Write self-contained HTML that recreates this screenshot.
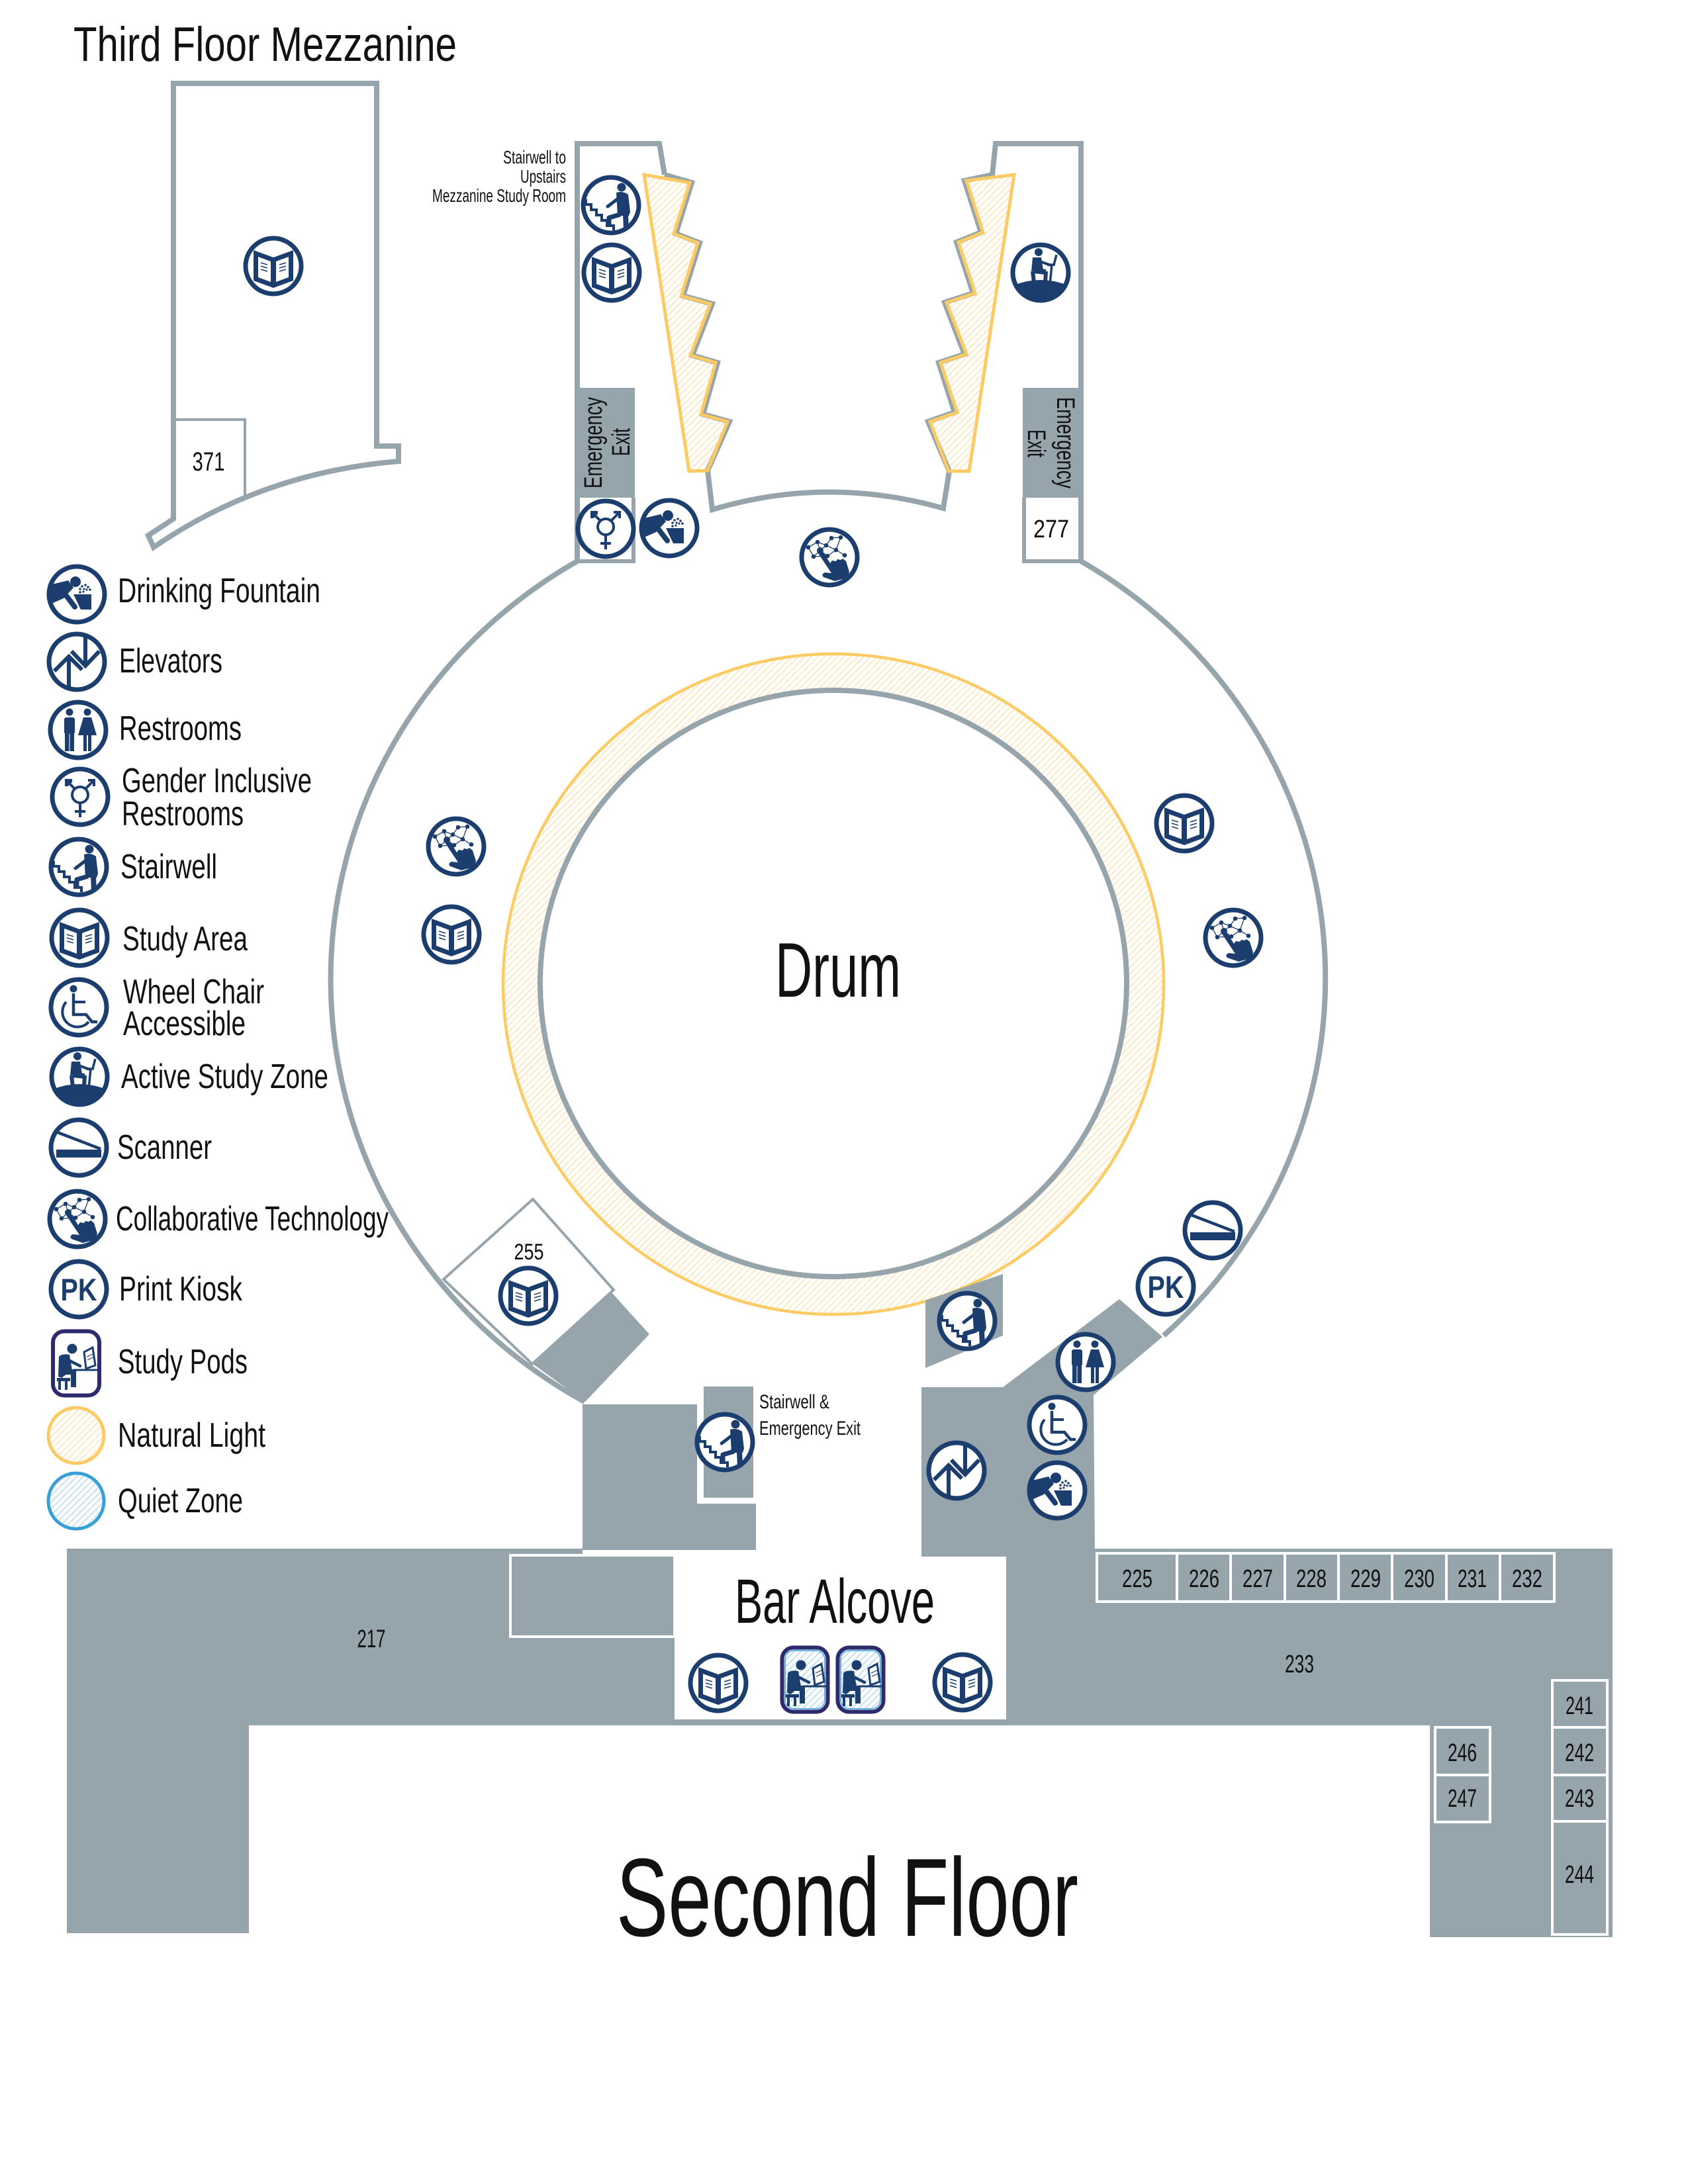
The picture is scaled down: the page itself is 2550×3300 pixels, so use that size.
<!DOCTYPE html>
<html><head><meta charset="utf-8">
<style>
html,body{margin:0;padding:0;background:#fff;}
svg{display:block;}
text{font-family:"Liberation Sans",Arial,sans-serif;fill:#111;}
</style></head><body>
<svg width="2550" height="3300" viewBox="0 0 2550 3300" xmlns="http://www.w3.org/2000/svg">
<defs>
<pattern id="hy" width="7" height="7" patternUnits="userSpaceOnUse" patternTransform="rotate(45)">
<rect width="7" height="7" fill="#fff"/>
<line x1="0" y1="0" x2="0" y2="7" stroke="#fdd382" stroke-width="1.8"/>
</pattern>
<pattern id="hb" width="7" height="7" patternUnits="userSpaceOnUse" patternTransform="rotate(45)">
<rect width="7" height="7" fill="#fff"/>
<line x1="0" y1="0" x2="0" y2="7" stroke="#86c6ec" stroke-width="1.8"/>
</pattern>

<g id="ring"><circle r="42" fill="#fff" stroke="#1b3e6e" stroke-width="7"/></g>

<g id="i-book"><use href="#ring"/>
<path d="M-30,-24 L0,-13 L30,-24 L30,22 L0,33 L-30,22Z" fill="#1b3e6e"/>
<path d="M-23,-14 L-4,-7 L-4,24 L-23,17Z M4,-7 L23,-14 L23,17 L4,24Z" fill="#fff"/>
<path d="M-19,-5 L-9,-2 M-19,0 L-9,3 M-19,5 L-9,8 M9,-2 L19,-5 M9,3 L19,0 M9,8 L19,5" stroke="#1b3e6e" stroke-width="1.6"/>
</g>

<g id="i-stair"><use href="#ring"/>
<path d="M-38,-9 V-1 H-30 V7 H-22 V15 H-14 V23 H-6 V31 H4 V38" fill="none" stroke="#1b3e6e" stroke-width="4"/>
<circle cx="16" cy="-27" r="6.5" fill="#1b3e6e"/>
<path d="M8,-19 Q18,-22 26,-16 L29,10 L27,16 L10,16 Z" fill="#1b3e6e"/>
<path d="M12,-11 L-5,2" stroke="#1b3e6e" stroke-width="5" stroke-linecap="round"/>
<path d="M22,14 L23,37" stroke="#1b3e6e" stroke-width="8"/>
<path d="M14,14 L-3,19 L-3,31" fill="none" stroke="#1b3e6e" stroke-width="7" stroke-linejoin="round"/>
</g>

<g id="i-drink"><use href="#ring"/>
<circle cx="-2" cy="-19" r="8" fill="#1b3e6e"/>
<path d="M-42,-14 L-13,-21 L-5,-10 L-20,6 L-38,14 Z" fill="#1b3e6e"/>
<path d="M-16,2 L-3,19" stroke="#1b3e6e" stroke-width="8" stroke-linecap="round"/>
<path d="M-5,0 H22 V23 H6 Z" fill="#1b3e6e"/>
<g fill="#1b3e6e"><circle cx="5" cy="-3" r="1.8"/><circle cx="5" cy="-8" r="1.8"/><circle cx="8" cy="-12" r="1.8"/><circle cx="13" cy="-14" r="1.8"/><circle cx="17" cy="-11" r="1.8"/><circle cx="20" cy="-7" r="1.8"/><circle cx="10" cy="-4" r="1.6"/><circle cx="11" cy="-8" r="1.6"/><circle cx="15" cy="-7" r="1.6"/></g>
</g>

<g id="i-elev"><use href="#ring"/>
<path d="M-12,40 V-8 M-34,14 L-12,-8 L8,12 M13,-40 V6 M-8,-16 L13,6 L34,-16" fill="none" stroke="#1b3e6e" stroke-width="6"/>
</g>

<g id="i-rest"><use href="#ring"/>
<g fill="#1b3e6e">
<circle cx="-13" cy="-27" r="5.5"/><rect x="-21" y="-19" width="16" height="25" rx="3"/>
<rect x="-20" y="4" width="6.5" height="28"/><rect x="-12.5" y="4" width="6.5" height="28"/>
<circle cx="14" cy="-27" r="5.5"/><path d="M8,-19 H20 L28,8 H0 Z"/>
<rect x="8" y="6" width="5" height="26"/><rect x="15" y="6" width="5" height="26"/>
</g></g>

<g id="i-gender"><use href="#ring"/>
<g fill="none" stroke="#1b3e6e" stroke-width="4">
<circle cx="0" cy="-3" r="12"/><path d="M0,9 V31 M-8,22 H8"/>
<path d="M8,-12 L21,-25 M12,-25 H21 V-16"/>
<path d="M-8,-12 L-21,-25 M-12,-25 H-21 V-16 M-20,-17 L-13,-24"/>
</g></g>

<g id="i-wheel"><use href="#ring"/>
<circle cx="-8" cy="-28" r="5.5" fill="#1b3e6e"/>
<path d="M-8,-21 V11 H11 L20,22 H28" fill="none" stroke="#1b3e6e" stroke-width="4.5"/>
<path d="M-8,-8 H10" stroke="#1b3e6e" stroke-width="4"/>
<path d="M-19,-8 A22,22 0 1 0 15,22" fill="none" stroke="#1b3e6e" stroke-width="4"/>
</g>

<g id="i-active"><use href="#ring"/>
<path d="M-38,18 Q0,4 38,18 A42,42 0 0 1 -38,18 Z" fill="#1b3e6e"/>
<circle cx="-3" cy="-31" r="6" fill="#1b3e6e"/>
<path d="M-12,-23 L1,-23 L4,-4 L-14,-2 Z" fill="#1b3e6e"/>
<path d="M-1,-17 L16,-11" stroke="#1b3e6e" stroke-width="4" stroke-linecap="round"/>
<path d="M-10,-3 L8,-1" stroke="#1b3e6e" stroke-width="8"/>
<path d="M8,-2 L7,15" stroke="#1b3e6e" stroke-width="6"/>
<path d="M-12,-2 L-10,15" stroke="#1b3e6e" stroke-width="6"/>
<path d="M17,-12 L14,18 M10,-12 H22 M20,-12 L24,-27" stroke="#1b3e6e" stroke-width="3.5"/>
</g>

<g id="i-scan"><use href="#ring"/>
<rect x="-34" y="3" width="68" height="12" fill="#1b3e6e"/>
<path d="M-32,-23 L33,2" stroke="#1b3e6e" stroke-width="4.5"/>
</g>

<g id="i-collab"><use href="#ring"/>
<path d="M-32,-15 L-18,-23 L-14,-10 L-24,-1 Z M-18,-23 L-5,-18 L3,-29 L17,-30 L10,-11 L23,-3 M-5,-18 L10,-11 M-14,-10 L-5,-18 M-14,-10 L-3,-2 L10,-11 M3,-29 L-5,-18 M-24,-1 L-3,-2" stroke="#1b3e6e" stroke-width="1.3" fill="none"/>
<g fill="#1b3e6e"><circle cx="-32" cy="-15" r="3.3"/><circle cx="-18" cy="-23" r="3.3"/><circle cx="-14" cy="-10" r="5"/><circle cx="-24" cy="-1" r="3.3"/><circle cx="-5" cy="-18" r="3.3"/><circle cx="3" cy="-29" r="3.3"/><circle cx="17" cy="-30" r="3.3"/><circle cx="10" cy="-11" r="3.3"/><circle cx="-3" cy="-2" r="3.3"/><circle cx="23" cy="-3" r="3.3"/>
<path d="M-17,-6 Q-12,-11 -8,-6 L1,9 L4,5 L10,6 L12,3 L17,4 L20,2 L25,6 L30,22 L27,31 L8,36 L-9,30 Q-13,26 -7,23 L3,24 Z"/></g>
</g>

<g id="i-pk"><use href="#ring"/>
<text x="0" y="17" text-anchor="middle" font-size="47" font-weight="bold" textLength="55" lengthAdjust="spacingAndGlyphs" style="fill:#1b3e6e">PK</text>
</g>

<g id="pod-fig">
<circle cx="-6" cy="-22" r="7.5" fill="#1b3e6e"/>
<path d="M-26,-10 Q-22,-15 -10,-13 L-6,10 L-22,22 L-27,20 Z" fill="#1b3e6e"/>
<path d="M-14,-6 L6,4" stroke="#1b3e6e" stroke-width="4.5" stroke-linecap="round"/>
<path d="M-24,13 H-4 V36" fill="none" stroke="#1b3e6e" stroke-width="8"/>
<rect x="-29" y="22" width="20" height="5" fill="#1b3e6e"/>
<path d="M-25,27 V40 M-15,27 V40" stroke="#1b3e6e" stroke-width="4"/>
<path d="M-4,10 H33" stroke="#1b3e6e" stroke-width="3"/>
<path d="M12,-17 L25,-24 L29,3 L15,8 Z" fill="#fff" stroke="#1b3e6e" stroke-width="3"/>
<path d="M16,-10 L25,-14 M17,-5 L26,-9" stroke="#1b3e6e" stroke-width="1.2"/>
</g>
<g id="i-pod">
<rect x="-35" y="-48.5" width="70" height="97" rx="17" fill="#fff" stroke="#2d2b6b" stroke-width="6"/>
<use href="#pod-fig"/>
</g>
<g id="i-podq">
<rect x="-34.5" y="-48.5" width="69" height="97" rx="17" fill="url(#hb)" stroke="#2d2b6b" stroke-width="6"/>
<rect x="-30" y="-44" width="60" height="88" rx="13" fill="none" stroke="#5db3e4" stroke-width="2"/>
<use href="#pod-fig"/>
</g>
</defs>

<!-- ===== Titles ===== -->
<text x="111" y="92" font-size="73" textLength="579" lengthAdjust="spacingAndGlyphs">Third Floor Mezzanine</text>

<!-- ===== Mezzanine ===== -->
<g fill="none" stroke="#96a4ab">
<path d="M262,126 H569 V674 H602 V697 Q396,714 232,827 L224,809 L262,784 Z" stroke-width="8"/>
<path d="M262,634 H370 V752" stroke-width="4"/>
</g>
<text x="315" y="711" font-size="40" text-anchor="middle" textLength="49" lengthAdjust="spacingAndGlyphs">371</text>

<!-- ===== Upper corridors ===== -->
<rect x="872" y="586" width="87" height="166" fill="#96a4ab"/>
<rect x="1545" y="586" width="86" height="166" fill="#96a4ab"/>

<polygon points="973,264 1042,276 1018,353 1054,367 1029,447 1073,459 1043,537 1081,548 1059,626 1099,637 1069,711 1041,712" fill="url(#hy)"/>
<polygon points="1532,264 1460,273 1485,351 1448,366 1473,443 1430,457 1460,535 1421,548 1446,623 1405,637 1433,712 1464,712" fill="url(#hy)"/>

<g fill="none" stroke="#96a4ab" stroke-width="8" stroke-linejoin="miter">
<path d="M872,848 V217 H996 L1004,264"/>
<path d="M1004,264 L1045,276 L1021,353 L1057,367 L1032,447 L1076,459 L1046,537 L1084,548 L1062,626 L1102,637 L1069,711 L1076,770 Q1249,718 1425,768 L1434,712 L1402,637 L1442,623 L1418,548 L1457,535 L1427,457 L1470,443 L1445,366 L1482,351 L1457,273 L1499,264 L1504,217 H1633 V848"/>
<path d="M872,848 H957 V752" stroke-width="6"/>
<path d="M1547,752 V848 H1633" stroke-width="6"/>
</g>
<g fill="none" stroke="#fdcb63" stroke-width="5" stroke-linejoin="miter">
<polygon points="973,264 1042,276 1018,353 1054,367 1029,447 1073,459 1043,537 1081,548 1059,626 1099,637 1069,711 1041,712"/>
<polygon points="1532,264 1460,273 1485,351 1448,366 1473,443 1430,457 1460,535 1421,548 1446,623 1405,637 1433,712 1464,712"/>
</g>

<g transform="translate(855,247)"><text x="0" y="0" font-size="28" text-anchor="end" textLength="95" lengthAdjust="spacingAndGlyphs">Stairwell to</text></g>
<g transform="translate(855,276)"><text x="0" y="0" font-size="28" text-anchor="end" textLength="69" lengthAdjust="spacingAndGlyphs">Upstairs</text></g>
<g transform="translate(855,305)"><text x="0" y="0" font-size="28" text-anchor="end" textLength="202" lengthAdjust="spacingAndGlyphs">Mezzanine Study Room</text></g>

<g transform="translate(909,669) rotate(-90)"><text x="0" y="0" font-size="38" text-anchor="middle" textLength="138" lengthAdjust="spacingAndGlyphs">Emergency</text></g>
<g transform="translate(951,668) rotate(-90)"><text x="0" y="0" font-size="38" text-anchor="middle" textLength="42" lengthAdjust="spacingAndGlyphs">Exit</text></g>
<g transform="translate(1597,669) rotate(90)"><text x="0" y="0" font-size="38" text-anchor="middle" textLength="138" lengthAdjust="spacingAndGlyphs">Emergency</text></g>
<g transform="translate(1553,670) rotate(90)"><text x="0" y="0" font-size="38" text-anchor="middle" textLength="42" lengthAdjust="spacingAndGlyphs">Exit</text></g>
<text x="1588" y="812" font-size="38" text-anchor="middle" textLength="54" lengthAdjust="spacingAndGlyphs">277</text>

<!-- ===== Drum ===== -->
<circle cx="1259" cy="1487" r="471" fill="none" stroke="url(#hy)" stroke-width="56"/>
<circle cx="1259" cy="1487" r="499" fill="none" stroke="#fdcb63" stroke-width="4.5"/>
<circle cx="1259" cy="1486" r="443" fill="none" stroke="#96a4ab" stroke-width="8"/>
<text x="1171" y="1506" font-size="117" textLength="190" lengthAdjust="spacingAndGlyphs">Drum</text>

<!-- ===== Room 255 ===== -->
<polygon points="805,1812 927,1949 804,2061 670,1933" fill="#fff" stroke="#96a4ab" stroke-width="4"/>
<polygon points="924,1953 981,2016 884,2118 805,2061" fill="#96a4ab"/>
<text x="799" y="1903" font-size="34" text-anchor="middle" textLength="45" lengthAdjust="spacingAndGlyphs">255</text>

<!-- ===== Outer circle walls ===== -->
<g fill="none" stroke="#96a4ab" stroke-width="8">
<path d="M872,848 A752,732 0 0 0 883,2118"/>
<path d="M1633,848 A752,732 0 0 1 1758,2018"/>
</g>

<!-- ===== Second floor band ===== -->
<g fill="#96a4ab">
<rect x="101" y="2340" width="2335" height="267"/>
<rect x="101" y="2340" width="275" height="581"/>
<rect x="2160" y="2340" width="276" height="587"/>
</g>
<rect x="1019" y="2336" width="501" height="262" fill="#fff"/>
<rect x="880" y="2342" width="140" height="8" fill="#fff"/>
<g fill="#96a4ab">
<polygon points="880,2122 1053,2122 1053,2272 1142,2272 1142,2342 880,2342"/>
<rect x="1063" y="2095" width="75" height="168"/>
<polygon points="1398,1965 1515,1925 1515,2018 1398,2067"/>
<polygon points="1392,2096 1515,2096 1691,1963 1756,2020 1652,2108 1654,2345 1520,2345 1520,2352 1392,2352"/>
</g>
<rect x="771" y="2350" width="248" height="123" fill="none" stroke="#fff" stroke-width="4"/>

<g fill="none" stroke="#fff" stroke-width="4">
<rect x="1657" y="2347" width="691" height="73"/>
<path d="M1778,2347 V2420 M1859,2347 V2420 M1941,2347 V2420 M2022,2347 V2420 M2103,2347 V2420 M2185,2347 V2420 M2266,2347 V2420"/>
<rect x="2345" y="2539" width="83" height="384"/>
<path d="M2345,2610 H2428 M2345,2682 H2428 M2345,2752 H2428"/>
<rect x="2168" y="2610" width="83" height="143"/>
<path d="M2168,2682 H2251"/>
</g>

<g font-size="38" text-anchor="middle">
<text x="1718" y="2398" textLength="46" lengthAdjust="spacingAndGlyphs">225</text>
<text x="1819" y="2398" textLength="46" lengthAdjust="spacingAndGlyphs">226</text>
<text x="1900" y="2398" textLength="46" lengthAdjust="spacingAndGlyphs">227</text>
<text x="1981" y="2398" textLength="46" lengthAdjust="spacingAndGlyphs">228</text>
<text x="2063" y="2398" textLength="46" lengthAdjust="spacingAndGlyphs">229</text>
<text x="2144" y="2398" textLength="46" lengthAdjust="spacingAndGlyphs">230</text>
<text x="2224" y="2398" textLength="44" lengthAdjust="spacingAndGlyphs">231</text>
<text x="2307" y="2398" textLength="46" lengthAdjust="spacingAndGlyphs">232</text>
<text x="1963" y="2527" textLength="44" lengthAdjust="spacingAndGlyphs">233</text>
<text x="561" y="2489" textLength="43" lengthAdjust="spacingAndGlyphs">217</text>
<text x="2386" y="2590" textLength="42" lengthAdjust="spacingAndGlyphs">241</text>
<text x="2386" y="2661" textLength="44" lengthAdjust="spacingAndGlyphs">242</text>
<text x="2386" y="2730" textLength="44" lengthAdjust="spacingAndGlyphs">243</text>
<text x="2386" y="2845" textLength="44" lengthAdjust="spacingAndGlyphs">244</text>
<text x="2209" y="2661" textLength="44" lengthAdjust="spacingAndGlyphs">246</text>
<text x="2209" y="2730" textLength="44" lengthAdjust="spacingAndGlyphs">247</text>
</g>

<text x="1147" y="2128" font-size="30" textLength="106" lengthAdjust="spacingAndGlyphs">Stairwell &amp;</text>
<text x="1147" y="2168" font-size="30" textLength="153" lengthAdjust="spacingAndGlyphs">Emergency Exit</text>

<text x="1110" y="2452" font-size="95" textLength="302" lengthAdjust="spacingAndGlyphs">Bar Alcove</text>
<text x="931" y="2925" font-size="168" textLength="698" lengthAdjust="spacingAndGlyphs">Second Floor</text>

<!-- ===== Map icons ===== -->
<use href="#i-book" x="413" y="402"/>
<use href="#i-stair" x="923" y="310"/>
<use href="#i-book" x="924" y="412"/>
<use href="#i-gender" x="915" y="799"/>
<use href="#i-drink" x="1011" y="798"/>
<use href="#i-collab" x="1253" y="842"/>
<use href="#i-active" x="1572" y="412"/>
<use href="#i-collab" x="689" y="1279"/>
<use href="#i-book" x="682" y="1412"/>
<use href="#i-book" x="1789" y="1244"/>
<use href="#i-collab" x="1863" y="1417"/>
<use href="#i-book" x="798" y="1958"/>
<use href="#i-stair" x="1095" y="2179"/>
<use href="#i-stair" x="1461" y="1996"/>
<use href="#i-scan" x="1832" y="1859"/>
<use href="#i-pk" x="1761" y="1944"/>
<use href="#i-rest" x="1640" y="2058"/>
<use href="#i-wheel" x="1597" y="2153"/>
<use href="#i-drink" x="1597" y="2252"/>
<use href="#i-elev" x="1445" y="2222"/>
<use href="#i-book" x="1085" y="2543"/>
<use href="#i-podq" x="1216" y="2538"/>
<use href="#i-podq" x="1300" y="2538"/>
<use href="#i-book" x="1454" y="2542"/>

<!-- ===== Legend ===== -->
<use href="#i-drink" x="116" y="898"/>
<use href="#i-elev" x="116" y="1000"/>
<use href="#i-rest" x="118" y="1103"/>
<use href="#i-gender" x="121" y="1204"/>
<use href="#i-stair" x="119" y="1310"/>
<use href="#i-book" x="120" y="1417"/>
<use href="#i-wheel" x="119" y="1522"/>
<use href="#i-active" x="120" y="1627"/>
<use href="#i-scan" x="119" y="1734"/>
<use href="#i-collab" x="117" y="1842"/>
<use href="#i-pk" x="119" y="1948"/>
<use href="#i-pod" x="115" y="2060"/>
<circle cx="115" cy="2169" r="42" fill="url(#hy)" stroke="#fdcb63" stroke-width="5"/>
<circle cx="115" cy="2268" r="42" fill="url(#hb)" stroke="#3a9fd6" stroke-width="5"/>

<g font-size="52">
<text x="178" y="910" textLength="306" lengthAdjust="spacingAndGlyphs">Drinking Fountain</text>
<text x="180" y="1016" textLength="156" lengthAdjust="spacingAndGlyphs">Elevators</text>
<text x="180" y="1118" textLength="185" lengthAdjust="spacingAndGlyphs">Restrooms</text>
<text x="184" y="1197" textLength="287" lengthAdjust="spacingAndGlyphs">Gender Inclusive</text>
<text x="184" y="1247" textLength="184" lengthAdjust="spacingAndGlyphs">Restrooms</text>
<text x="182" y="1327" textLength="146" lengthAdjust="spacingAndGlyphs">Stairwell</text>
<text x="185" y="1436" textLength="189" lengthAdjust="spacingAndGlyphs">Study Area</text>
<text x="186" y="1516" textLength="213" lengthAdjust="spacingAndGlyphs">Wheel Chair</text>
<text x="186" y="1564" textLength="185" lengthAdjust="spacingAndGlyphs">Accessible</text>
<text x="183" y="1644" textLength="313" lengthAdjust="spacingAndGlyphs">Active Study Zone</text>
<text x="177" y="1751" textLength="143" lengthAdjust="spacingAndGlyphs">Scanner</text>
<text x="175" y="1859" textLength="412" lengthAdjust="spacingAndGlyphs">Collaborative Technology</text>
<text x="180" y="1965" textLength="186" lengthAdjust="spacingAndGlyphs">Print Kiosk</text>
<text x="178" y="2075" textLength="196" lengthAdjust="spacingAndGlyphs">Study Pods</text>
<text x="178" y="2186" textLength="223" lengthAdjust="spacingAndGlyphs">Natural Light</text>
<text x="178" y="2285" textLength="189" lengthAdjust="spacingAndGlyphs">Quiet Zone</text>
</g>
</svg>
</body></html>
